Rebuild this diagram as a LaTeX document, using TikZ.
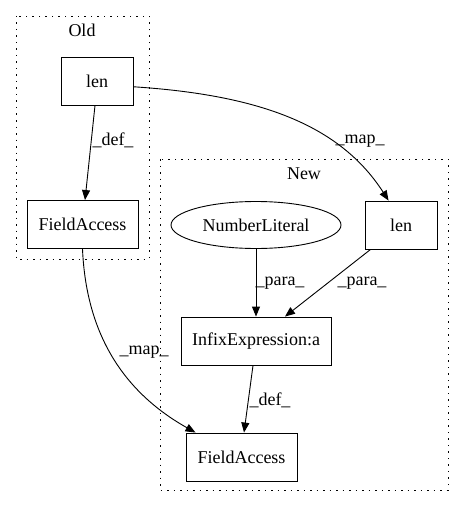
\documentclass[tikz,border=0pt]{standalone}
\usepackage{fontspec}
\setmainfont{Liberation Serif}
\usetikzlibrary{arrows.meta,shapes.geometric}
\begin{document}
\begin{tikzpicture}[x=1pt,y=-1pt,
  every node/.style={font=\fontsize{18}{20}\selectfont},
  box/.style={draw,line width=0.9pt,minimum height=48pt,inner sep=0pt},
  oval/.style={draw,ellipse,line width=0.9pt,minimum width=170pt,minimum height=47pt,inner sep=0pt},
  cluster/.style={draw,line width=0.9pt,dash pattern=on 1.5pt off 5pt},
  edge/.style={line width=0.9pt,-{Triangle[length=10pt,width=8pt]}},
  lbl/.style={inner sep=0pt}]
\useasboundingbox (0,0) rectangle (464,508);
\draw[cluster] (16,16) rectangle (149,259);
\draw[cluster] (160,159) rectangle (448,490);
\node[lbl] (oldlbl) at (82,30) {Old};
\node[lbl] (newlbl) at (304,174) {New};
\node[box,minimum width=72pt] (len1) at (97,81) {len};
\node[box,minimum width=111pt] (fa1) at (82.5,224.5) {FieldAccess};
\node[oval] (num) at (256,225) {NumberLiteral};
\node[box,minimum width=72pt] (len2) at (401,225) {len};
\node[box,minimum width=150pt] (infix) at (256,341) {InfixExpression:a};
\node[box,minimum width=111pt] (fa2) at (241.5,457) {FieldAccess};
\draw[edge] (len1.south) ++(-2,0) coordinate (s1) -- (fa1.north -| 85,0);
\draw[edge] (len1.-9) .. controls (260,95) and (340,125) .. (len2.117);
\draw[edge] (num.south) -- (infix.north);
\draw[edge] (len2.south west) ++(6,0) coordinate (s2) -- (infix.north -| 285,0);
\draw[edge] (infix.south -| 253,0) coordinate (s3) -- (fa2.north -| 244,0);
\draw[edge] (fa1.south) .. controls (86,330) and (120,390) .. (fa2.152);
\node[lbl] (l1) at (113,140) {\_def\_};
\node[lbl] (l2) at (360,141) {\_map\_};
\node[lbl] (l3) at (280,283) {\_para\_};
\node[lbl] (l4) at (362,283) {\_para\_};
\node[lbl] (l5) at (270,400) {\_def\_};
\node[lbl] (l6) at (144,352) {\_map\_};
\end{tikzpicture}
\end{document}
